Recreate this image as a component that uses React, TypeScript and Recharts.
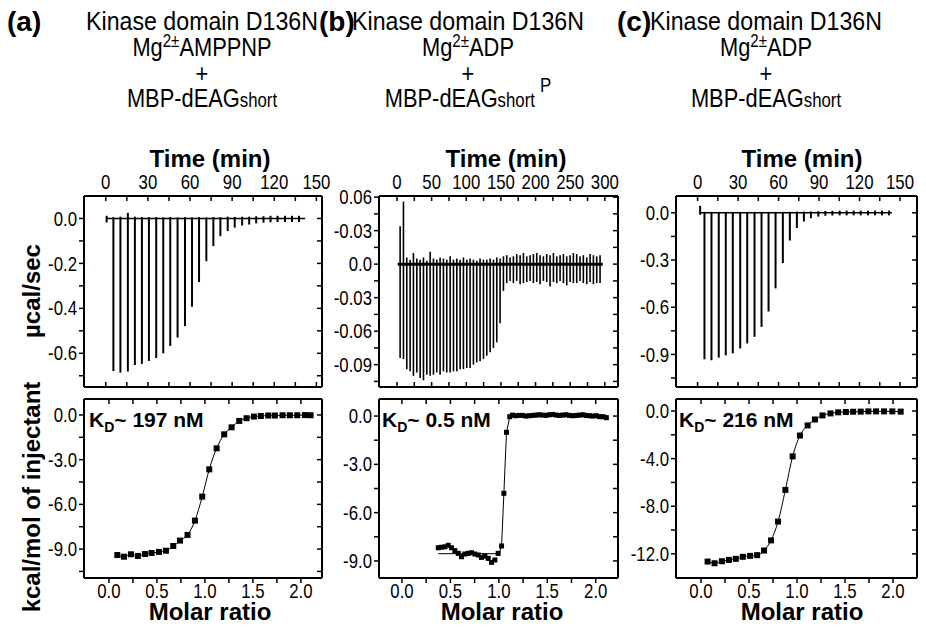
import React from "react";
import { Bar, ComposedChart, Line, ReferenceLine, XAxis, YAxis } from "recharts";

const SANS = "'Liberation Sans', Arial, Helvetica, sans-serif";
const NARROW_SCALE = 0.84; // no narrow face installed: squeeze the regular one

// ---------- (a) raw heat, µcal/sec ----------
const aInjTime = [0.9, 5.7, 10.7, 16.0, 21.0, 26.0, 31.0, 36.2, 41.2, 46.2, 51.4, 56.7, 61.7, 66.7, 71.9, 76.9, 81.9, 87.1, 92.1, 97.4, 102.4, 107.4, 112.6, 117.6, 122.6, 127.9, 132.9, 137.9];
const aInjPeak = [-0.018, -0.679, -0.686, -0.681, -0.652, -0.647, -0.634, -0.621, -0.6, -0.567, -0.53, -0.479, -0.393, -0.283, -0.19, -0.123, -0.079, -0.056, -0.041, -0.031, -0.027, -0.022, -0.019, -0.017, -0.016, -0.016, -0.016, -0.016];
const aInjTop = [0.012, 0.006, 0.008, 0.025, 0.008, 0.006, 0.006, 0.006, 0.005, 0.006, 0.005, 0.006, 0.005, 0.006, 0.005, 0.006, 0.006, 0.008, 0.007, 0.008, 0.008, 0.01, 0.01, 0.012, 0.012, 0.012, 0.012, 0.012];
const aTraceSpan = [0.9, 142];

// ---------- (a) integrated heats, kcal/mol ----------
const aMolar = [0.087, 0.156, 0.229, 0.302, 0.375, 0.444, 0.521, 0.594, 0.67, 0.74, 0.819, 0.896, 0.972, 1.045, 1.122, 1.201, 1.278, 1.358, 1.434, 1.51, 1.583, 1.66, 1.729, 1.809, 1.885, 1.962, 2.042, 2.101];
const aHeat = [-9.4, -9.51, -9.35, -9.46, -9.33, -9.26, -9.19, -9.11, -8.79, -8.43, -8.05, -7.09, -5.48, -3.65, -2.24, -1.3, -0.83, -0.4, -0.22, -0.11, -0.07, -0.04, -0.04, -0.02, -0.02, -0.02, -0.01, -0.02];

// ---------- (b) raw heat ----------
const bInjTime = [4.3, 9.1, 13.9, 18.7, 23.5, 28.4, 33.2, 38.0, 42.8, 47.6, 52.4, 57.2, 62.0, 66.8, 71.6, 76.5, 81.3, 86.1, 90.9, 95.7, 100.5, 105.3, 110.1, 114.9, 119.7, 124.6, 129.4, 134.2, 139.0, 143.8, 148.6,
  153.4, 158.2, 163.0, 167.8, 172.6, 177.5, 182.3, 187.1, 191.9, 196.7, 201.5, 206.3, 211.1, 215.9, 220.7, 225.6, 230.4, 235.2, 240.0, 244.8, 249.6, 254.4, 259.2, 264.0, 268.8, 273.7, 278.5, 283.3, 288.1, 292.9];
const bInjPeak = [-0.084, -0.085, -0.094, -0.096, -0.1, -0.097, -0.102, -0.104, -0.099, -0.1, -0.099, -0.097, -0.099, -0.096, -0.097, -0.097, -0.096, -0.096, -0.094, -0.094, -0.093, -0.093, -0.09, -0.088, -0.087, -0.085, -0.082, -0.079, -0.075, -0.07, -0.053,
  -0.024, -0.017, -0.015, -0.017, -0.015, -0.018, -0.017, -0.016, -0.015, -0.017, -0.016, -0.018, -0.015, -0.016, -0.02, -0.016, -0.017, -0.015, -0.017, -0.019, -0.016, -0.017, -0.017, -0.015, -0.017, -0.018, -0.016, -0.018, -0.017, -0.017];
const bInjTop = [0.034, 0.056, 0.006, 0.004, 0.01, 0.005, 0.004, 0.006, 0.003, 0.011, 0.005, 0.004, 0.006, 0.005, 0.004, 0.007, 0.004, 0.005, 0.004, 0.006, 0.004, 0.005, 0.004, 0.003, 0.005, 0.004, 0.004, 0.005, 0.004, 0.006, 0.005,
  0.007, 0.008, 0.006, 0.007, 0.009, 0.008, 0.01, 0.007, 0.008, 0.009, 0.01, 0.008, 0.007, 0.009, 0.008, 0.01, 0.007, 0.008, 0.009, 0.007, 0.008, 0.01, 0.009, 0.007, 0.008, 0.006, 0.009, 0.008, 0.007, 0.008];
const bTraceSpan = [1, 297];

// ---------- (b) integrated heats ----------
const bMolar = [0.375, 0.409, 0.443, 0.478, 0.512, 0.546, 0.581, 0.615, 0.649, 0.684, 0.718, 0.753, 0.787, 0.821, 0.856, 0.89, 0.924, 0.959, 0.993, 1.028,
  1.052, 1.079, 1.113,
  1.141, 1.176, 1.21, 1.245, 1.279, 1.314, 1.349, 1.383, 1.418, 1.452, 1.487, 1.522, 1.556, 1.591, 1.625, 1.66, 1.695, 1.729, 1.764, 1.798, 1.833, 1.868, 1.902, 1.937, 1.971, 2.006, 2.041, 2.075, 2.11];
const bHeat = [-8.18, -8.15, -8.12, -8.03, -8.18, -8.36, -8.53, -8.74, -8.57, -8.53, -8.49, -8.57, -8.63, -8.78, -8.7, -8.84, -9.09, -8.94, -8.53, -8.07,
  -4.8, -1.01, -0.04,
  0.06, 0.02, 0.04, 0.04, 0.0, 0.02, 0.04, 0.06, 0.08, 0.06, 0.04, 0.08, 0.1, 0.06, 0.04, 0.06, 0.08, 0.04, 0.02, 0.04, 0.06, 0.08, 0.04, 0.02, 0.0, 0.02, -0.04, -0.04, -0.1];
const bFitMolar = [0.375, 1.0, 1.028, 1.052, 1.079, 1.113, 1.16, 2.11];
const bFitHeat = [-8.55, -8.55, -8.1, -4.8, -1.01, -0.05, 0.04, 0.04];

// ---------- (c) raw heat ----------
const cInjTime = [2.0, 5.2, 10.4, 15.8, 21.0, 26.2, 31.7, 36.9, 42.3, 47.5, 52.7, 57.9, 63.3, 68.5, 73.7, 78.9, 84.1, 89.6, 94.8, 100.0, 105.4, 110.6, 115.8, 121.0, 126.4, 131.6, 136.8, 142.0];
const cInjPeak = [-0.012, -0.931, -0.937, -0.92, -0.906, -0.893, -0.862, -0.83, -0.788, -0.725, -0.627, -0.48, -0.319, -0.176, -0.096, -0.055, -0.034, -0.024, -0.019, -0.017, -0.016, -0.016, -0.016, -0.016, -0.016, -0.016, -0.016, -0.016];
const cInjTop = [0.044, 0.006, 0.006, 0.006, 0.006, 0.006, 0.006, 0.006, 0.006, 0.006, 0.006, 0.006, 0.006, 0.007, 0.008, 0.008, 0.009, 0.01, 0.012, 0.013, 0.014, 0.014, 0.014, 0.014, 0.014, 0.014, 0.014, 0.014];
const cTraceSpan = [1.5, 144];

// ---------- (c) integrated heats ----------
const cMolar = [0.069, 0.142, 0.218, 0.291, 0.363, 0.436, 0.512, 0.585, 0.657, 0.73, 0.803, 0.879, 0.955, 1.031, 1.111, 1.187, 1.266, 1.349, 1.429, 1.509, 1.585, 1.664, 1.744, 1.824, 1.907, 1.993, 2.08];
const cHeat = [-12.65, -12.79, -12.62, -12.51, -12.42, -12.25, -12.17, -12.11, -11.72, -10.87, -9.29, -6.63, -3.81, -2.06, -1.21, -0.71, -0.37, -0.2, -0.11, -0.08, -0.06, -0.05, -0.03, -0.03, -0.03, -0.03, -0.05];

// ---------- ticks ----------
const time150Ticks = [0, 15, 30, 45, 60, 75, 90, 105, 120, 135, 150];
const time150Labels = ["0", "", "30", "", "60", "", "90", "", "120", "", "150"];
const time300Ticks = [0, 25, 50, 75, 100, 125, 150, 175, 200, 225, 250, 275, 300];
const time300Labels = ["0", "", "50", "", "100", "", "150", "", "200", "", "250", "", "300"];
const molarTicks = [0, 0.25, 0.5, 0.75, 1, 1.25, 1.5, 1.75, 2];
const molarLabels = ["0.0", "", "0.5", "", "1.0", "", "1.5", "", "2.0"];
const aRawTicks = [0, -0.1, -0.2, -0.3, -0.4, -0.5, -0.6, -0.7];
const aRawLabels = ["0.0", "", "-0.2", "", "-0.4", "", "-0.6", ""];
const bRawTicks = [0.06, 0.045, 0.03, 0.015, 0, -0.015, -0.03, -0.045, -0.06, -0.075, -0.09, -0.105];
const bRawLabels = ["0.06", "", "-0.03", "", "0.0", "", "-0.03", "", "-0.06", "", "-0.09", ""];
const cRawTicks = [0, -0.15, -0.3, -0.45, -0.6, -0.75, -0.9, -1.05];
const cRawLabels = ["0.0", "", "-0.3", "", "-0.6", "", "-0.9", ""];
const abHeatTicks = [0, -1.5, -3, -4.5, -6, -7.5, -9, -10.5];
const abHeatLabels = ["0.0", "", "-3.0", "", "-6.0", "", "-9.0", ""];
const cHeatTicks = [0, -2, -4, -6, -8, -10, -12];
const cHeatLabels = ["0.0", "", "-4.0", "", "-8.0", "", "-12.0"];

const spikes = (time: number[], peak: number[], top: number[]) =>
  time.map((t, i) => ({ x: t, range: [peak[i], top[i]] }));
const points = (molar: number[], heat: number[]) =>
  molar.map((m, i) => ({ x: m, y: heat[i] }));

const YW = 55;
const XH = 30;
const PAD = 20;
const TICK = 5;
const TICK_GAP = 2;

interface PanelProps {
  left: number;
  top: number;
  width: number;
  height: number;
  labelsOnTop: boolean;
  data: any[];
  xDomain: [number, number];
  xTicks: number[];
  xLabels: string[];
  yDomain: [number, number];
  yTicks: number[];
  yLabels: string[];
  children: React.ReactNode;
}

const axisLine = { stroke: "#000", strokeWidth: 2 };
const tickLine = { stroke: "#000", strokeWidth: 1.5 };

// condensed tick label, looked up by value so blank minor ticks stay blank.
// the time axis sits on top with its tick marks pointing into the plot
const makeTick = (ticks: number[], labels: string[], kind: "top" | "bottom" | "left") => (props: any) => {
  const { x, y, payload } = props;
  const i = ticks.findIndex((t) => Math.abs(t - payload.value) < 1e-9);
  const label = i >= 0 ? labels[i] : "";
  const dy = kind === "bottom" ? "0.71em" : kind === "left" ? "0.355em" : "0";
  return (
    <g>
      {kind === "top" ? (
        <line x1={x} x2={x} y1={y + TICK + TICK_GAP} y2={y + 2 * TICK + TICK_GAP} stroke="#000" strokeWidth={1.5} />
      ) : null}
      <g transform={`translate(${x},${y}) scale(${NARROW_SCALE},1)`}>
        <text x={0} y={0} dy={dy} textAnchor={kind === "left" ? "end" : "middle"} fontSize={20} fontFamily={SANS} fill="#000">
          {label}
        </text>
      </g>
    </g>
  );
};

const Panel: React.FC<PanelProps> = ({
  left, top, width, height, labelsOnTop, data,
  xDomain, xTicks, xLabels, yDomain, yTicks, yLabels, children,
}) => {
  const margin = labelsOnTop
    ? { top: 0, right: PAD, bottom: PAD, left: 0 }
    : { top: PAD, right: PAD, bottom: 0, left: 0 };
  // two corner points tie the mirrored frame axes to the same domain
  const corners = [
    { x: xDomain[0], y: yDomain[0] },
    { x: xDomain[1], y: yDomain[1] },
  ];
  return (
    <div style={{ position: "absolute", left: left - YW, top: labelsOnTop ? top - XH : top - PAD }}>
      <ComposedChart width={YW + width + PAD} height={XH + height + PAD} margin={margin} data={data}>
        <XAxis
          xAxisId="main"
          dataKey="x"
          orientation={labelsOnTop ? "top" : "bottom"}
          type="number"
          domain={xDomain}
          ticks={xTicks}
          interval={0}
          allowDataOverflow
          height={XH}
          axisLine={axisLine}
          tickLine={labelsOnTop ? false : tickLine}
          tickSize={TICK}
          tickMargin={labelsOnTop ? TICK_GAP : 1}
          tick={makeTick(xTicks, xLabels, labelsOnTop ? "top" : "bottom")}
        />
        <XAxis
          xAxisId="edge"
          dataKey="x"
          orientation={labelsOnTop ? "bottom" : "top"}
          type="number"
          domain={xDomain}
          ticks={xTicks}
          interval={0}
          allowDataOverflow
          mirror
          height={XH}
          tickFormatter={() => ""}
          axisLine={axisLine}
          tickLine={tickLine}
          tickSize={TICK}
        />
        <YAxis
          yAxisId="main"
          orientation="left"
          type="number"
          domain={yDomain}
          ticks={yTicks}
          interval={0}
          allowDataOverflow
          width={YW}
          axisLine={axisLine}
          tickLine={tickLine}
          tickSize={TICK}
          tickMargin={TICK_GAP}
          tick={makeTick(yTicks, yLabels, "left")}
        />
        <YAxis
          yAxisId="edge"
          orientation="right"
          type="number"
          domain={yDomain}
          ticks={yTicks}
          interval={0}
          allowDataOverflow
          mirror
          tickFormatter={() => ""}
          axisLine={axisLine}
          tickLine={tickLine}
          tickSize={TICK}
        />
        <Line xAxisId="edge" yAxisId="edge" data={corners} dataKey="y" stroke="none" dot={false} activeDot={false} legendType="none" isAnimationActive={false} />
        {children}
      </ComposedChart>
    </div>
  );
};

const square = (size: number) => (props: any) => {
  const { cx, cy, index } = props;
  if (cx == null || cy == null) return <g key={`e-${index}`} />;
  return <rect key={`sq-${index}`} x={cx - size / 2} y={cy - size / 2} width={size} height={size} fill="#000" />;
};

const TOP_Y = 196;
const TOP_H = 191;
const BOT_Y = 399;
const BOT_H = 179;

const Title: React.FC<{ tag: string; tagX: number; cx: number; ligand: string; phospho?: boolean }> = ({ tag, tagX, cx, ligand, phospho }) => (
  <g>
    <text x={tagX} y={31} fontFamily={SANS} fontWeight="bold" fontSize={28}>{tag}</text>
    <g transform={`translate(${cx},0) scale(${NARROW_SCALE},1) translate(${-cx},0)`} fontFamily={SANS} fontSize={26}>
      <text x={cx} y={30} textAnchor="middle" textLength={276} lengthAdjust="spacingAndGlyphs">Kinase domain D136N</text>
      <text x={cx} y={56} textAnchor="middle">
        Mg<tspan dy={-9} fontSize={18}>2±</tspan><tspan dy={9}>{ligand}</tspan>
      </text>
      <text x={cx} y={82} textAnchor="middle">+</text>
      <text x={cx} y={107} textAnchor="middle">
        MBP-dEAG<tspan fontSize={20}>short</tspan>
        {phospho ? <tspan dx={6} dy={-15} fontSize={20}>P</tspan> : null}
      </text>
    </g>
  </g>
);

const Kd: React.FC<{ x: number; value: string }> = ({ x, value }) => (
  <text x={x} y={427} fontFamily={SANS} fontWeight="bold" fontSize={21}>
    K<tspan dy={5} fontSize={14}>D</tspan><tspan dy={-5}>{value}</tspan>
  </text>
);

export default function App() {
  const aX = 84, bX = 379, cX = 676;
  const aW = 238, bW = 239, cW = 241;
  return (
    <div style={{ position: "absolute", left: 0, top: 0, width: 926, height: 631, background: "#fff", overflow: "hidden" }}>
      {/* top row: raw thermograms */}
      <Panel left={aX} top={TOP_Y} width={aW} height={TOP_H} labelsOnTop data={spikes(aInjTime, aInjPeak, aInjTop)}
        xDomain={[-15.5, 154]} xTicks={time150Ticks} xLabels={time150Labels}
        yDomain={[-0.75, 0.1]} yTicks={aRawTicks} yLabels={aRawLabels}>
        <ReferenceLine xAxisId="main" yAxisId="main" segment={[{ x: aTraceSpan[0], y: 0 }, { x: aTraceSpan[1], y: 0 }]} stroke="#000" strokeWidth={1.5} />
        <Bar xAxisId="main" yAxisId="main" dataKey="range" fill="#000" barSize={2} isAnimationActive={false} />
      </Panel>
      <Panel left={bX} top={TOP_Y} width={bW} height={TOP_H} labelsOnTop data={spikes(bInjTime, bInjPeak, bInjTop)}
        xDomain={[-26, 319]} xTicks={time300Ticks} xLabels={time300Labels}
        yDomain={[-0.11, 0.061]} yTicks={bRawTicks} yLabels={bRawLabels}>
        <ReferenceLine xAxisId="main" yAxisId="main" segment={[{ x: bTraceSpan[0], y: 0 }, { x: bTraceSpan[1], y: 0 }]} stroke="#000" strokeWidth={3} />
        <Bar xAxisId="main" yAxisId="main" dataKey="range" fill="#000" barSize={1.6} isAnimationActive={false} />
      </Panel>
      <Panel left={cX} top={TOP_Y} width={cW} height={TOP_H} labelsOnTop data={spikes(cInjTime, cInjPeak, cInjTop)}
        xDomain={[-16, 162.6]} xTicks={time150Ticks} xLabels={time150Labels}
        yDomain={[-1.107, 0.107]} yTicks={cRawTicks} yLabels={cRawLabels}>
        <ReferenceLine xAxisId="main" yAxisId="main" segment={[{ x: cTraceSpan[0], y: 0 }, { x: cTraceSpan[1], y: 0 }]} stroke="#000" strokeWidth={1.5} />
        <Bar xAxisId="main" yAxisId="main" dataKey="range" fill="#000" barSize={2} isAnimationActive={false} />
      </Panel>

      {/* bottom row: integrated heats */}
      <Panel left={aX} top={BOT_Y} width={aW} height={BOT_H} labelsOnTop={false} data={points(aMolar, aHeat)}
        xDomain={[-0.26, 2.22]} xTicks={molarTicks} xLabels={molarLabels}
        yDomain={[-10.94, 1.07]} yTicks={abHeatTicks} yLabels={abHeatLabels}>
        <Line xAxisId="main" yAxisId="main" type="monotone" dataKey="y" stroke="#000" strokeWidth={1} dot={square(6)} activeDot={false} isAnimationActive={false} />
      </Panel>
      <Panel left={bX} top={BOT_Y} width={bW} height={BOT_H} labelsOnTop={false} data={points(bMolar, bHeat)}
        xDomain={[-0.237, 2.23]} xTicks={molarTicks} xLabels={molarLabels}
        yDomain={[-10.06, 1.06]} yTicks={abHeatTicks.slice(0, 7)} yLabels={abHeatLabels.slice(0, 7)}>
        <Line xAxisId="main" yAxisId="main" data={points(bFitMolar, bFitHeat)} type="linear" dataKey="y" stroke="#000" strokeWidth={1} dot={false} activeDot={false} isAnimationActive={false} />
        <Line xAxisId="main" yAxisId="main" type="linear" dataKey="y" stroke="none" dot={square(5)} activeDot={false} isAnimationActive={false} />
      </Panel>
      <Panel left={cX} top={BOT_Y} width={cW} height={BOT_H} labelsOnTop={false} data={points(cMolar, cHeat)}
        xDomain={[-0.26, 2.25]} xTicks={molarTicks} xLabels={molarLabels}
        yDomain={[-14.03, 1.01]} yTicks={cHeatTicks} yLabels={cHeatLabels}>
        <Line xAxisId="main" yAxisId="main" type="monotone" dataKey="y" stroke="#000" strokeWidth={1} dot={square(6)} activeDot={false} isAnimationActive={false} />
      </Panel>

      {/* titles and axis labels */}
      <svg width={926} height={631} style={{ position: "absolute", left: 0, top: 0, pointerEvents: "none" }}>
        <Title tag="(a)" tagX={7} cx={202} ligand="AMPPNP" />
        <Title tag="(b)" tagX={319} cx={468} ligand="ADP" phospho />
        <Title tag="(c)" tagX={617} cx={766} ligand="ADP" />

        {[210, 506, 802].map((x) => (
          <text key={`t${x}`} x={x} y={167} textAnchor="middle" fontFamily={SANS} fontWeight="bold" fontSize={24}>Time (min)</text>
        ))}
        {[210, 502, 802].map((x) => (
          <text key={`m${x}`} x={x} y={620} textAnchor="middle" fontFamily={SANS} fontWeight="bold" fontSize={24}>Molar ratio</text>
        ))}

        <text x={31} y={291} transform="rotate(-90 31 291)" textAnchor="middle" dominantBaseline="central" fontFamily={SANS} fontWeight="bold" fontSize={24}>µcal/sec</text>
        <text x={31} y={497} transform="rotate(-90 31 497)" textAnchor="middle" dominantBaseline="central" fontFamily={SANS} fontWeight="bold" fontSize={24}>kcal/mol of injectant</text>

        <Kd x={aX + 5} value="~ 197 nM" />
        <Kd x={bX + 3} value="~ 0.5 nM" />
        <Kd x={cX + 3} value="~ 216 nM" />
      </svg>
    </div>
  );
}
